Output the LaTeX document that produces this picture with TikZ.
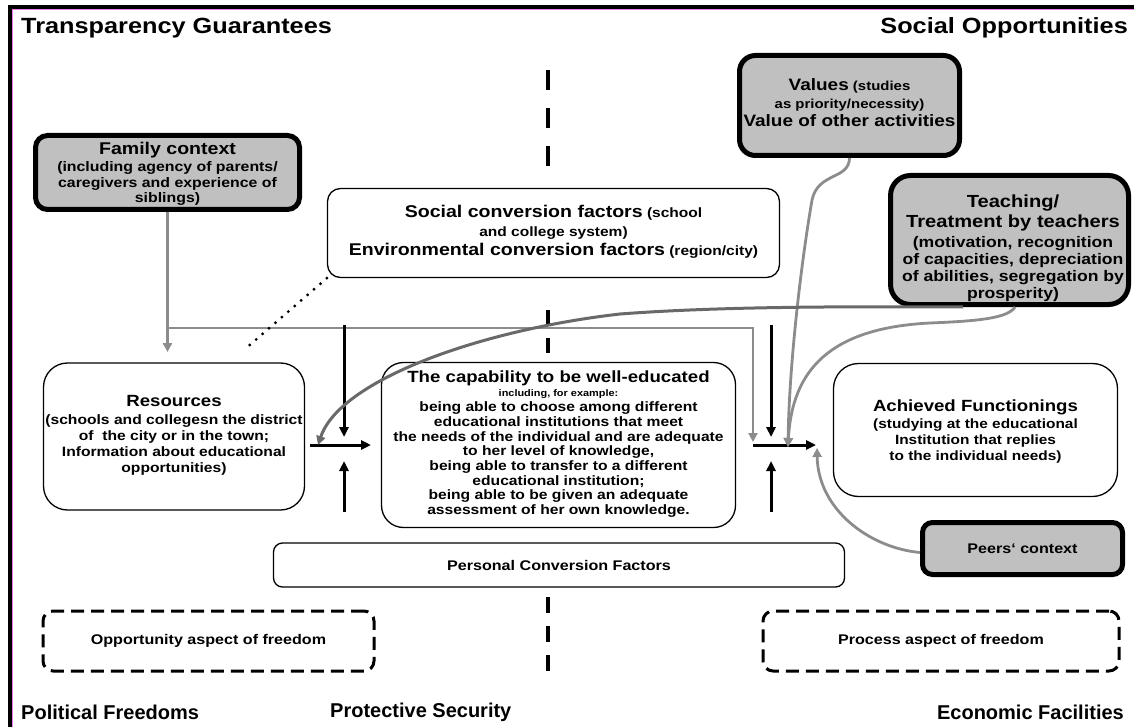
\documentclass[tikz,border=0pt]{standalone}
\usepackage{fontspec}
\setmainfont{Liberation Sans}[FakeStretch=1.15]
\newfontfamily\plainsans{Liberation Sans}
\usetikzlibrary{arrows.meta}
\definecolor{boxgray}{RGB}{192,192,192}
\definecolor{linegray}{RGB}{140,140,140}
\definecolor{darkline}{RGB}{105,105,105}
\definecolor{framepink}{RGB}{235,120,235}
\newcommand\txtsz[2]{{\fontsize{#1}{#1}\selectfont #2}}
\tikzset{
  graybox/.style={draw=black, line width=5pt, fill=boxgray, rounded corners=14pt, inner sep=0pt},
  whitebox/.style={draw=black, line width=1.3pt, fill=white, inner sep=0pt},
  dashbox/.style={draw=black, line width=3pt, dash pattern=on 13pt off 7pt, rounded corners=10pt, inner sep=0pt},
  txt/.style={align=center, inner sep=0pt},
  title/.style={inner sep=0pt, font=\bfseries\fontsize{22}{24}\selectfont},
  btitle/.style={inner sep=0pt, font=\plainsans\bfseries\fontsize{20}{22}\selectfont},
  blk/.style={draw=black, line width=3pt, -{Triangle[length=10pt,width=9pt]}},
  gry/.style={draw=linegray, line width=2.8pt, -{Triangle[length=9pt,width=9pt]}},
  dkg/.style={draw=darkline, line width=3pt, -{Triangle[length=9pt,width=9pt]}},
  midline/.style={draw=black, line width=3.5pt},
  dots/.style={draw=black, line width=3.2pt, dash pattern=on 0pt off 8.5pt, line cap=round}
}
\begin{document}
\begin{tikzpicture}[x=1pt,y=-1pt]
\useasboundingbox (0,0) rectangle (1134,727);

% outer frame (top and left edges)
\draw[line width=4pt] (10,760) -- (10,7) -- (1150,7);
\draw[framepink, line width=0.8pt] (12.6,760) -- (12.6,9.6) -- (1150,9.6);

% corner titles
\node[title, anchor=west] (tTG) at (21,28) {Transparency Guarantees};
\node[title, anchor=east] (tSO) at (1128,28) {Social Opportunities};
\node[btitle, anchor=west] (tPF) at (21,712) {Political Freedoms};
\node[btitle, anchor=west] (tPS) at (330,712) {Protective Security};
\node[btitle, anchor=east] (tEF) at (1124,712) {Economic Facilities};

% central dividing line
\draw[midline, dash pattern=on 20pt off 18pt] (548,70) -- (548,166);
\draw[midline, dash pattern=on 15pt off 13pt] (548,310) -- (548,353);
\draw[midline, dash pattern=on 16pt off 13pt] (548,597) -- (548,672);

% boxes
\node[graybox, minimum width=264pt, minimum height=74pt, rounded corners=12pt] (fam) at (167.5,172.5) {};
\node[graybox, minimum width=220pt, minimum height=100pt, rounded corners=16pt] (val) at (849.5,105.5) {};
\node[graybox, minimum width=238pt, minimum height=129pt, rounded corners=20pt] (tch) at (1009.5,240) {};
\node[graybox, minimum width=200pt, minimum height=52pt, rounded corners=10pt] (peer) at (1022.5,548.5) {};
\node[whitebox, minimum width=452pt, minimum height=89pt, rounded corners=13pt] (soc) at (553.5,233) {};
\node[whitebox, minimum width=261pt, minimum height=147pt, rounded corners=24pt] (res) at (174,436.5) {};
\node[whitebox, minimum width=354pt, minimum height=165pt, rounded corners=22pt] (cap) at (558.5,445) {};
\node[whitebox, minimum width=284pt, minimum height=133pt, rounded corners=25pt] (ach) at (975.5,430) {};
\node[whitebox, minimum width=571pt, minimum height=44pt, rounded corners=9pt] (pcf) at (559,565) {};
\node[dashbox, minimum width=331pt, minimum height=60pt] (opp) at (208.5,641) {};
\node[dashbox, minimum width=356pt, minimum height=60pt] (prc) at (941,641) {};

% box texts
\node[txt, font=\bfseries\fontsize{13.8}{15.5}\selectfont] (famT) at (167.5,174)
  {\txtsz{17}{Family context}\\[2pt] (including agency of parents/\\ caregivers and experience of\\ siblings)};
\node[txt, font=\bfseries\fontsize{13}{18}\selectfont] (valT) at (849.5,103)
  {\txtsz{16.5}{Values} (studies\\ as priority/necessity)\\ \txtsz{16.5}{Value of other activities}};
\node[txt, font=\bfseries\fontsize{15.3}{17}\selectfont] (tchT) at (1013,248)
  {\txtsz{17.5}{Teaching/}\\[3pt] \txtsz{17.5}{Treatment by teachers}\\[3pt] (motivation, recognition\\ of capacities, depreciation\\ of abilities, segregation by\\ prosperity)};
\node[txt, font=\bfseries\fontsize{13.5}{19}\selectfont] (socT) at (553.5,231.5)
  {\txtsz{17}{Social conversion factors} (school\\ and college system)\\ \txtsz{17}{Environmental conversion factors} (region/city)};
\node[txt, font=\bfseries\fontsize{13.6}{16}\selectfont] (resT) at (174,435.5)
  {\txtsz{16.2}{Resources}\\[2pt] (schools and collegesn the district\\ of\ \ the city or in the town;\\ Information about educational\\ opportunities)};
\node[txt, font=\bfseries\fontsize{13.6}{14.7}\selectfont] (capT) at (558.5,444)
  {\txtsz{16.2}{The capability to be well-educated}\\ \txtsz{9.5}{including, for example:}\\ being able to choose among different\\ educational institutions that meet\\ the needs of the individual and are adequate\\ to her level of knowledge,\\ being able to transfer to a different\\ educational institution;\\ being able to be given an adequate\\ assessment of her own knowledge.};
\node[txt, font=\bfseries\fontsize{13.4}{16}\selectfont] (achT) at (975.5,432)
  {\txtsz{16.2}{Achieved Functionings}\\[1pt] (studying at the educational\\ Institution that replies\\ to the individual needs)};
\node[txt, font=\bfseries\fontsize{14}{16}\selectfont] (peerT) at (1022.5,548.5) {Peers‘ context};
\node[txt, font=\bfseries\fontsize{14}{16}\selectfont] (pcfT) at (559,565) {Personal Conversion Factors};
\node[txt, font=\bfseries\fontsize{14}{16}\selectfont] (oppT) at (208.5,641) {Opportunity aspect of freedom};
\node[txt, font=\bfseries\fontsize{14}{16}\selectfont] (prcT) at (941,641) {Process aspect of freedom};

% junction points
\coordinate (famSplit) at (167.5,328);
\coordinate (famEnd) at (167.5,352);
\coordinate (gDown) at (753,442);
\coordinate (lStart) at (310,445);
\coordinate (lEnd) at (371,445);
\coordinate (lTop) at (344,325);
\coordinate (lTopEnd) at (344,437);
\coordinate (lBot) at (344,512);
\coordinate (lBotEnd) at (344,461);
\coordinate (rStart) at (753,445);
\coordinate (rEnd) at (816,445);
\coordinate (rTop) at (771,325);
\coordinate (rTopEnd) at (771,437);
\coordinate (rBot) at (771,512);
\coordinate (rBotEnd) at (771,461);
\coordinate (jIn) at (788,447);
\coordinate (jPeer) at (817,448);
\coordinate (jRes) at (318,445);
\coordinate (dotEnd) at (244,350);

% family context feeds
\draw[gry] (fam.south) -- (famEnd);
\draw[gry] (famSplit) -| (gDown);

% dotted link from conversion factors
\draw[dots] (soc.south west) -- (dotEnd);

% black conversion arrows
\draw[blk] (lStart) -- (lEnd);
\draw[blk] (lTop) -- (lTopEnd);
\draw[blk] (lBot) -- (lBotEnd);
\draw[blk] (rStart) -- (rEnd);
\draw[blk] (rTop) -- (rTopEnd);
\draw[blk] (rBot) -- (rBotEnd);

% influences
\draw[gry] (val.south) .. controls (849,180) and (818,172) .. (812,200)
  .. controls (800,270) and (789,370) .. (jIn);
\draw[dkg] ([xshift=-46.5pt]tch.south) .. controls (800,306) and (700,308) .. (620,314)
  .. controls (480,330) and (340,380) .. (jRes);
\draw[gry] ([xshift=5.5pt]tch.south) .. controls (1008,318) and (980,321) .. (930,323)
  .. controls (830,328) and (792,370) .. (jIn);
\draw[gry] ([yshift=-4pt]peer.west) .. controls (870,548) and (818,510) .. (jPeer);
\end{tikzpicture}
\end{document}
